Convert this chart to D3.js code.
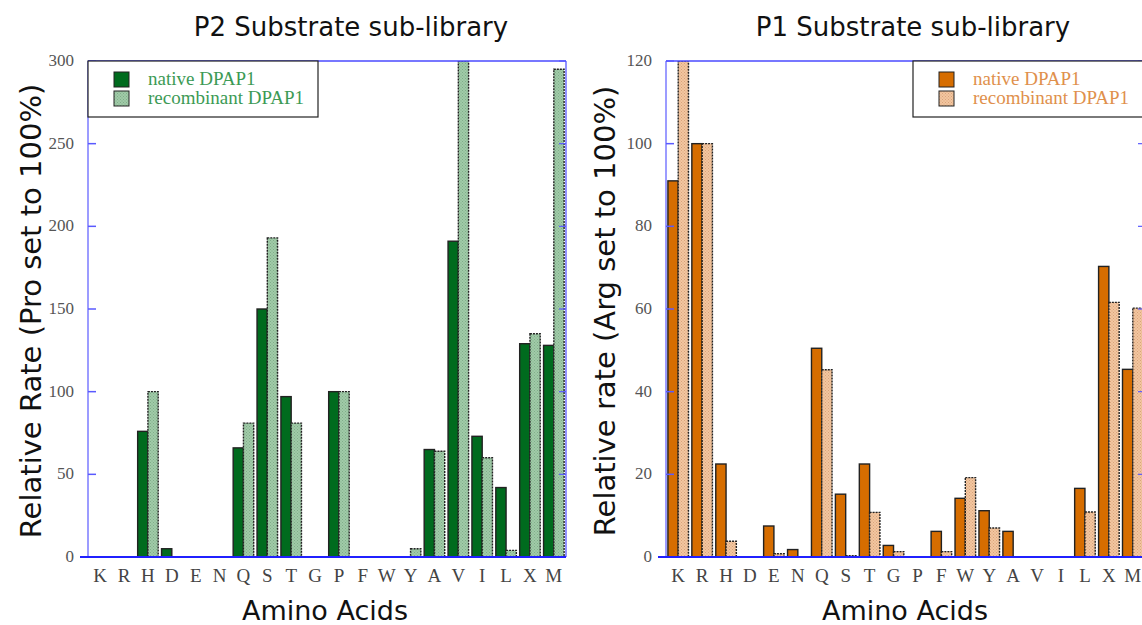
<!DOCTYPE html>
<html>
<head>
<meta charset="utf-8">
<script src="https://cdn.jsdelivr.net/npm/d3@7"></script>
<style>
  body { margin: 0; background: #fff; }
  svg { display: block; }
</style>
</head>
<body>
<div id="chart"></div>
<script>
// amino acid categories (same order in both panels)
const aminoAcids = ["K","R","H","D","E","N","Q","S","T","G","P","F","W","Y","A","V","I","L","X","M"];

// P2 sub-library (Pro set to 100%)
const p2Native = [0,0,76,5,0,0,66,150,97,0,100,0,0,0,65,191,73,42,129,128];
const p2Recomb = [0,0,100,0,0,0,81,193,81,0,100,0,0,5,64,300,60,4,135,295];
const p2Ticks = [0,50,100,150,200,250,300];

// P1 sub-library (Arg set to 100%)
const p1Native = [91,100,22.5,0,7.5,1.8,50.5,15.2,22.5,2.8,0,6.2,14.2,11.2,6.2,0,0,16.6,70.3,45.4];
const p1Recomb = [120,100,3.8,0,0.8,0,45.3,0.3,10.8,1.3,0,1.3,19.2,7,0,0,0,10.9,61.6,60.2];
const p1Ticks = [0,20,40,60,80,100,120];

const seriesNames = ["native DPAP1","recombinant DPAP1"];

const svgWidth = 1142;
const svgHeight = 625;

let svg = d3.select("#chart")
  .append("svg")
  .attr("width", svgWidth)
  .attr("height", svgHeight);

const defs = svg.append("defs");

// dotted texture used for the recombinant bars
function makePattern(id, base, dot) {
  const p = defs.append("pattern")
    .attr("id", id)
    .attr("width", 3)
    .attr("height", 3)
    .attr("patternUnits", "userSpaceOnUse");
  p.append("rect").attr("width", 3).attr("height", 3).attr("fill", base);
  p.append("rect").attr("x", 0).attr("y", 0).attr("width", 1).attr("height", 1).attr("fill", dot);
  p.append("rect").attr("x", 1.5).attr("y", 1.5).attr("width", 1).attr("height", 1).attr("fill", dot);
}
makePattern("patGreen", "#a0cba8", "#80ad89");
makePattern("patOrange", "#f2c6a0", "#daa37a");

function drawPanel(opt) {
  const yTop = 61, yBot = 557;
  const g = svg.append("g");

  const x = d3.scaleBand()
    .domain(aminoAcids)
    .range([opt.x0, opt.x1])
    .paddingInner(0.14)
    .paddingOuter(0.08);

  const xs = d3.scaleBand()
    .domain(seriesNames)
    .range([0, x.bandwidth()]);

  const y = d3.scaleLinear()
    .domain([0, opt.max])
    .range([yBot, yTop]);

  const clipId = "clip" + opt.id;
  defs.append("clipPath").attr("id", clipId)
    .append("rect")
    .attr("x", opt.x0).attr("y", yTop)
    .attr("width", opt.x1 - opt.x0).attr("height", yBot - yTop);

  // title
  g.append("text")
    .attr("x", opt.titleX)
    .attr("y", 36)
    .attr("text-anchor", "middle")
    .style("font-family", "'DejaVu Sans', sans-serif")
    .style("font-size", "26px")
    .attr("fill", "#111")
    .text(opt.title);

  // y axis title
  g.append("text")
    .attr("transform", `translate(${opt.yTitleX}, 311) rotate(-90)`)
    .attr("text-anchor", "middle")
    .style("font-family", "'DejaVu Sans', sans-serif")
    .style("font-size", "29px")
    .attr("fill", "#111")
    .text(opt.yTitle);

  // x axis title
  g.append("text")
    .attr("x", opt.axTitleX)
    .attr("y", 620)
    .attr("text-anchor", "middle")
    .style("font-family", "'DejaVu Sans', sans-serif")
    .style("font-size", "27px")
    .attr("fill", "#111")
    .text("Amino Acids");

  // bars
  const rows = aminoAcids.map((a, i) => ({ aa: a, vals: [opt.native[i], opt.recomb[i]] }));
  const barG = g.append("g").attr("clip-path", `url(#${clipId})`);
  rows.forEach(r => {
    r.vals.forEach((v, k) => {
      if (v <= 0) return;
      barG.append("rect")
        .attr("x", x(r.aa) + xs(seriesNames[k]))
        .attr("y", y(v))
        .attr("width", xs.bandwidth())
        .attr("height", y(0) - y(v))
        .attr("fill", k === 0 ? opt.nativeColor : `url(#${opt.pattern})`)
        .attr("stroke", "#222")
        .attr("stroke-width", 1.4)
        .attr("stroke-dasharray", k === 0 ? null : "2,1");
    });
  });

  // frame: left, top, right in blue
  g.append("line").attr("x1", opt.x0).attr("x2", opt.x0).attr("y1", yTop).attr("y2", yBot)
    .attr("stroke", "#7b7bff").attr("stroke-width", 1.5);
  g.append("line").attr("x1", opt.x0).attr("x2", opt.x1).attr("y1", yTop).attr("y2", yTop)
    .attr("stroke", "#4a4aff").attr("stroke-width", 1.5);
  g.append("line").attr("x1", opt.x1).attr("x2", opt.x1).attr("y1", yTop).attr("y2", yBot)
    .attr("stroke", "#4a4aff").attr("stroke-width", 1.2);

  // y ticks inside on both sides
  opt.ticks.forEach(t => {
    g.append("line").attr("x1", opt.x0).attr("x2", opt.x0 + 8).attr("y1", y(t)).attr("y2", y(t))
      .attr("stroke", "#5a5aff").attr("stroke-width", 1.5);
    g.append("line").attr("x1", opt.x1 - 7).attr("x2", opt.x1).attr("y1", y(t)).attr("y2", y(t))
      .attr("stroke", "#5a5aff").attr("stroke-width", 1.2);
    g.append("text")
      .attr("x", opt.x0 - 14)
      .attr("y", y(t) + 5)
      .attr("text-anchor", "end")
      .style("font-family", "'Liberation Serif', serif")
      .style("font-size", "17px")
      .attr("fill", "#555")
      .text(t);
  });

  // bottom axis
  const bottomAxis = d3.axisBottom(x).tickSize(0).tickPadding(12);
  const xAxis = g.append("g")
    .attr("transform", `translate(0, ${yBot})`)
    .call(bottomAxis);
  xAxis.select(".domain").attr("stroke", "#2020ff").attr("stroke-width", 2)
    .attr("d", `M${opt.x0 - 8},0H${opt.x1}`);
  xAxis.selectAll("text")
    .style("font-family", "'Liberation Serif', serif")
    .style("font-size", "19px")
    .attr("fill", "#444");

  // legend
  const lg = g.append("g");
  lg.append("rect")
    .attr("x", opt.legX).attr("y", yTop)
    .attr("width", opt.legW).attr("height", 56)
    .attr("fill", "#fff").attr("stroke", "#222").attr("stroke-width", 1.2);
  seriesNames.forEach((s, k) => {
    lg.append("rect")
      .attr("x", opt.legX + 26).attr("y", yTop + 11 + k * 19)
      .attr("width", 15).attr("height", 15)
      .attr("fill", k === 0 ? opt.nativeColor : `url(#${opt.pattern})`)
      .attr("stroke", "#222").attr("stroke-width", 1);
    lg.append("text")
      .attr("x", opt.legX + 60).attr("y", yTop + 24 + k * 19)
      .style("font-family", "'Liberation Serif', serif")
      .style("font-size", "19px")
      .attr("fill", opt.legText)
      .text(s);
  });
}

drawPanel({
  id: "a", x0: 88, x1: 566, max: 300, ticks: p2Ticks,
  native: p2Native, recomb: p2Recomb,
  nativeColor: "#006b1e", pattern: "patGreen", legText: "#3c9a55",
  title: "P2 Substrate sub-library", titleX: 351, axTitleX: 325,
  yTitle: "Relative Rate (Pro set to 100%)", yTitleX: 41,
  legX: 88, legW: 230
});

drawPanel({
  id: "b", x0: 666, x1: 1145, max: 120, ticks: p1Ticks,
  native: p1Native, recomb: p1Recomb,
  nativeColor: "#d66d00", pattern: "patOrange", legText: "#e0904c",
  title: "P1 Substrate sub-library", titleX: 913, axTitleX: 905,
  yTitle: "Relative rate (Arg set to 100%)", yTitleX: 615,
  legX: 913, legW: 240
});
</script>
</body>
</html>
